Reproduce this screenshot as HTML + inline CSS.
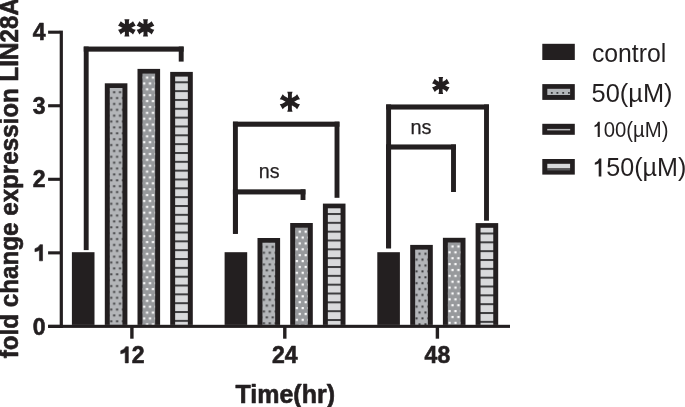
<!DOCTYPE html>
<html><head><meta charset="utf-8"><style>
html,body{margin:0;padding:0;background:#fff;overflow:hidden}
svg{display:block;will-change:transform}
text{font-family:"Liberation Sans",sans-serif;fill:#231f20}
.bs{stroke:#231f20;stroke-width:0.6px;stroke-linejoin:round}
.ns{stroke:#231f20;stroke-width:0.25px}
</style></head><body>
<svg width="685" height="407" viewBox="0 0 685 407">
<defs>
<pattern id="p1" patternUnits="userSpaceOnUse" x="109.75" y="88" width="5.9" height="11.75"><rect width="5.9" height="11.75" fill="#b3b5b8"/><rect x="3.4" y="3.2" width="2.0" height="2.0" fill="#3a3a3c"/><rect x="0.45" y="9.07" width="2.0" height="2.0" fill="#3a3a3c"/><rect x="6.35" y="9.07" width="2.0" height="2.0" fill="#3a3a3c"/></pattern>
<pattern id="p2" patternUnits="userSpaceOnUse" x="142.45" y="73.6" width="5.9" height="11.75"><rect width="5.9" height="11.75" fill="#97999c"/><rect x="3.55" y="2.9" width="2.2" height="2.2" fill="#ffffff"/><rect x="0.6" y="8.78" width="2.2" height="2.2" fill="#ffffff"/><rect x="6.5" y="8.78" width="2.2" height="2.2" fill="#ffffff"/></pattern>
<pattern id="p3" patternUnits="userSpaceOnUse" x="0" y="81.3" width="20" height="8.836"><rect width="20" height="8.836" fill="#d9dadc"/><rect width="20" height="2.0" fill="#3e3e40"/></pattern>
<pattern id="p4" patternUnits="userSpaceOnUse" x="262.45" y="242.7" width="5.9" height="11.75"><rect width="5.9" height="11.75" fill="#b3b5b8"/><rect x="3.4" y="3.2" width="2.0" height="2.0" fill="#3a3a3c"/><rect x="0.45" y="9.07" width="2.0" height="2.0" fill="#3a3a3c"/><rect x="6.35" y="9.07" width="2.0" height="2.0" fill="#3a3a3c"/></pattern>
<pattern id="p5" patternUnits="userSpaceOnUse" x="295.15" y="227.7" width="5.9" height="11.75"><rect width="5.9" height="11.75" fill="#97999c"/><rect x="3.55" y="2.9" width="2.2" height="2.2" fill="#ffffff"/><rect x="0.6" y="8.78" width="2.2" height="2.2" fill="#ffffff"/><rect x="6.5" y="8.78" width="2.2" height="2.2" fill="#ffffff"/></pattern>
<pattern id="p6" patternUnits="userSpaceOnUse" x="0" y="213" width="20" height="8.836"><rect width="20" height="8.836" fill="#d9dadc"/><rect width="20" height="2.0" fill="#3e3e40"/></pattern>
<pattern id="p7" patternUnits="userSpaceOnUse" x="415.15" y="249.6" width="5.9" height="11.75"><rect width="5.9" height="11.75" fill="#b3b5b8"/><rect x="3.4" y="3.2" width="2.0" height="2.0" fill="#3a3a3c"/><rect x="0.45" y="9.07" width="2.0" height="2.0" fill="#3a3a3c"/><rect x="6.35" y="9.07" width="2.0" height="2.0" fill="#3a3a3c"/></pattern>
<pattern id="p8" patternUnits="userSpaceOnUse" x="447.85" y="242.5" width="5.9" height="11.75"><rect width="5.9" height="11.75" fill="#97999c"/><rect x="3.55" y="2.9" width="2.2" height="2.2" fill="#ffffff"/><rect x="0.6" y="8.78" width="2.2" height="2.2" fill="#ffffff"/><rect x="6.5" y="8.78" width="2.2" height="2.2" fill="#ffffff"/></pattern>
<pattern id="p9" patternUnits="userSpaceOnUse" x="0" y="232.5" width="20" height="8.836"><rect width="20" height="8.836" fill="#d9dadc"/><rect width="20" height="2.0" fill="#3e3e40"/></pattern>
<linearGradient id="lg" x1="0" y1="0" x2="0" y2="1"><stop offset="0" stop-color="#d9dadc"/><stop offset="0.62" stop-color="#d9dadc"/><stop offset="0.8" stop-color="#6a6a6c"/><stop offset="1" stop-color="#2a2a2b"/></linearGradient>
</defs>
<rect x="71.9" y="252.2" width="22.6" height="72.7" fill="#231f20"/>
<rect x="104.8" y="83.3" width="22.6" height="241.6" fill="#231f20"/>
<rect x="109.75" y="88" width="12.7" height="236.9" fill="url(#p1)"/>
<rect x="137.5" y="68.9" width="22.6" height="256" fill="#231f20"/>
<rect x="142.45" y="73.6" width="12.7" height="251.3" fill="url(#p2)"/>
<rect x="170.2" y="71.9" width="22.6" height="253" fill="#231f20"/>
<rect x="175.15" y="76.6" width="12.7" height="248.3" fill="url(#p3)"/>
<rect x="224.6" y="252.2" width="22.6" height="72.7" fill="#231f20"/>
<rect x="257.5" y="238" width="22.6" height="86.9" fill="#231f20"/>
<rect x="262.45" y="242.7" width="12.7" height="82.2" fill="url(#p4)"/>
<rect x="290.2" y="223" width="22.6" height="101.9" fill="#231f20"/>
<rect x="295.15" y="227.7" width="12.7" height="97.2" fill="url(#p5)"/>
<rect x="322.9" y="203.6" width="22.6" height="121.3" fill="#231f20"/>
<rect x="327.85" y="208.3" width="12.7" height="116.6" fill="url(#p6)"/>
<rect x="377.3" y="252.2" width="22.6" height="72.7" fill="#231f20"/>
<rect x="410.2" y="244.9" width="22.6" height="80" fill="#231f20"/>
<rect x="415.15" y="249.6" width="12.7" height="75.3" fill="url(#p7)"/>
<rect x="442.9" y="237.8" width="22.6" height="87.1" fill="#231f20"/>
<rect x="447.85" y="242.5" width="12.7" height="82.4" fill="url(#p8)"/>
<rect x="475.6" y="223.1" width="22.6" height="101.8" fill="#231f20"/>
<rect x="480.55" y="227.8" width="12.7" height="97.1" fill="url(#p9)"/>
<rect x="59.7" y="30.6" width="3.2" height="297.3" fill="#231f20"/>
<rect x="48.2" y="324.8" width="461.8" height="3.1" fill="#231f20"/>
<rect x="48.1" y="324.85" width="12" height="3.1" fill="#231f20"/>
<rect x="48.1" y="251.3" width="12" height="3.1" fill="#231f20"/>
<rect x="48.1" y="177.75" width="12" height="3.1" fill="#231f20"/>
<rect x="48.1" y="104.2" width="12" height="3.1" fill="#231f20"/>
<rect x="48.1" y="30.65" width="12" height="3.1" fill="#231f20"/>
<rect x="130.2" y="327" width="3.4" height="11.7" fill="#231f20"/>
<rect x="283.1" y="327" width="3.4" height="11.7" fill="#231f20"/>
<rect x="435.7" y="327" width="3.4" height="11.7" fill="#231f20"/>
<rect x="83.75" y="46.55" width="99.9" height="5.1" fill="#231f20"/>
<rect x="83.75" y="46.55" width="4.9" height="203.55" fill="#231f20"/>
<rect x="178.75" y="46.55" width="4.9" height="15.05" fill="#231f20"/>
<rect x="232.95" y="121.65" width="106.5" height="5.1" fill="#231f20"/>
<rect x="232.95" y="121.65" width="4.9" height="112.15" fill="#231f20"/>
<rect x="334.55" y="121.65" width="4.9" height="76.15" fill="#231f20"/>
<rect x="232.95" y="189.35" width="72.5" height="5.1" fill="#231f20"/>
<rect x="232.95" y="189.35" width="4.9" height="44.45" fill="#231f20"/>
<rect x="300.55" y="189.35" width="4.9" height="10.65" fill="#231f20"/>
<rect x="386.15" y="104.45" width="102.8" height="5.1" fill="#231f20"/>
<rect x="386.15" y="104.45" width="4.9" height="143.85" fill="#231f20"/>
<rect x="484.05" y="104.45" width="4.9" height="116.25" fill="#231f20"/>
<rect x="386.15" y="144.45" width="69.8" height="5.1" fill="#231f20"/>
<rect x="386.15" y="144.45" width="4.9" height="103.85" fill="#231f20"/>
<rect x="451.05" y="144.45" width="4.9" height="47.55" fill="#231f20"/>
<path d="M124.9 27.8L124.9 21.18L124.4 19.2L129.4 19.2L128.9 21.18L128.9 27.8ZM125.8 25.89L131.53 22.58L133 21.16L135.7 25.84L133.73 26.39L128 29.71ZM128 25.89L133.73 29.21L135.7 29.76L133 34.44L131.53 33.02L125.8 29.71ZM128.9 27.8L128.9 34.42L129.4 36.4L124.4 36.4L124.9 34.42L124.9 27.8ZM128 29.71L122.27 33.02L120.8 34.44L118.1 29.76L120.07 29.21L125.8 25.89ZM125.8 29.71L120.07 26.39L118.1 25.84L120.8 21.16L122.27 22.58L128 25.89Z" fill="#231f20"/>
<path d="M143.5 27.8L143.5 21.18L143 19.2L148 19.2L147.5 21.18L147.5 27.8ZM144.4 25.89L150.13 22.58L151.6 21.16L154.3 25.84L152.33 26.39L146.6 29.71ZM146.6 25.89L152.33 29.21L154.3 29.76L151.6 34.44L150.13 33.02L144.4 29.71ZM147.5 27.8L147.5 34.42L148 36.4L143 36.4L143.5 34.42L143.5 27.8ZM146.6 29.71L140.87 33.02L139.4 34.44L136.7 29.76L138.67 29.21L144.4 25.89ZM144.4 29.71L138.67 26.39L136.7 25.84L139.4 21.16L140.87 22.58L146.6 25.89Z" fill="#231f20"/>
<path d="M287.95 101.7L287.95 94L287.25 91.7L292.55 91.7L291.85 94L291.85 101.7ZM288.8 99.79L295.47 95.94L297.11 94.19L300.01 99.21L297.67 99.76L291 103.61ZM291 99.79L297.67 103.64L300.01 104.19L297.11 109.21L295.47 107.46L288.8 103.61ZM291.85 101.7L291.85 109.4L292.55 111.7L287.25 111.7L287.95 109.4L287.95 101.7ZM291 103.61L284.33 107.46L282.69 109.21L279.79 104.19L282.13 103.64L288.8 99.79ZM288.8 103.61L282.13 99.76L279.79 99.21L282.69 94.19L284.33 95.94L291 99.79Z" fill="#231f20"/>
<path d="M438.95 85.4L438.95 78.86L438.45 76.9L443.15 76.9L442.65 78.86L442.65 85.4ZM439.7 83.49L445.37 80.22L446.81 78.81L449.51 83.49L447.57 84.03L441.9 87.31ZM441.9 83.49L447.57 86.77L449.51 87.31L446.81 91.99L445.37 90.58L439.7 87.31ZM442.65 85.4L442.65 91.95L443.15 93.9L438.45 93.9L438.95 91.95L438.95 85.4ZM441.9 87.31L436.23 90.58L434.79 91.99L432.09 87.31L434.03 86.77L439.7 83.49ZM439.7 87.31L434.03 84.03L432.09 83.49L434.79 78.81L436.23 80.22L441.9 83.49Z" fill="#231f20"/>
<text x="258.8" y="178.4" font-size="20" textLength="20.8" lengthAdjust="spacingAndGlyphs" class="ns">ns</text>
<text x="410.5" y="133.7" font-size="20" textLength="21" lengthAdjust="spacingAndGlyphs" class="ns">ns</text>
<text x="45.5" y="334.5" font-size="23" font-weight="bold" text-anchor="end"  class="bs">0</text>
<path d="M39.43 260.85L42.54 260.85L42.54 244.68L39.89 244.68Q38.97 247.44 34.95 248.71L34.95 251.7Q38.05 251.24 39.43 250.32Z" fill="#231f20" class="bs"/>
<text x="45.5" y="187.4" font-size="23" font-weight="bold" text-anchor="end"  class="bs">2</text>
<text x="45.5" y="113.85" font-size="23" font-weight="bold" text-anchor="end"  class="bs">3</text>
<text x="45.5" y="40.3" font-size="23" font-weight="bold" text-anchor="end"  class="bs">4</text>
<path d="M125.23 362.9L128.34 362.9L128.34 346.73L125.69 346.73Q124.77 349.49 120.75 350.76L120.75 353.75Q123.85 353.29 125.23 352.37Z" fill="#231f20" class="bs"/>
<text x="131.7" y="362.9" font-size="23" font-weight="bold" text-anchor="start"  class="bs">2</text>
<text x="284.7" y="362.9" font-size="23" font-weight="bold" text-anchor="middle"  class="bs">24</text>
<text x="437.4" y="362.9" font-size="23" font-weight="bold" text-anchor="middle"  class="bs">48</text>
<text x="285.2" y="402.8" font-size="25" font-weight="bold" text-anchor="middle"  class="bs">Time(hr)</text>
<text transform="translate(18.2 358.2) rotate(-90) scale(1.008 1.05)" font-size="24" font-weight="bold" class="bs">fold change expression LIN28A</text>
<rect x="542.3" y="43.8" width="32.5" height="16.2" fill="#231f20"/>
<rect x="542.3" y="84.1" width="32.5" height="15.8" fill="#231f20"/>
<rect x="547.3" y="88.8" width="22.8" height="6.2" fill="#b3b5b8"/>
<rect x="550.9" y="92" width="1.8" height="1.8" fill="#3a3a3c"/>
<rect x="556.5" y="92" width="1.8" height="1.8" fill="#3a3a3c"/>
<rect x="562.3" y="92" width="1.8" height="1.8" fill="#3a3a3c"/>
<rect x="568" y="92" width="1.8" height="1.8" fill="#3a3a3c"/>
<rect x="542.3" y="123.8" width="32.5" height="11" fill="#231f20"/>
<rect x="547.2" y="128.9" width="23" height="1.5" fill="#b8b9bb"/>
<rect x="542.3" y="159" width="32.5" height="15.6" fill="#231f20"/>
<rect x="547.3" y="163.8" width="22.8" height="4.6" fill="#d9dadc"/>
<rect x="547.3" y="168.4" width="22.8" height="2.1" fill="#58585a"/>
<text transform="translate(591.9 61.8) scale(1.0 1.026)" font-size="24.8">control</text>
<text transform="translate(591.6 101.8) scale(1.0 1.01)" font-size="25.4">50(µM)</text>
<g transform="translate(592.5 137) scale(1.0 1.06)">
<path d="M5.18 0L7.31 0L7.31 -14.27L5.58 -14.27Q4.77 -11.83 2.03 -10.82L2.03 -9.3Q3.96 -9.7 5.18 -10.52Z" fill="#231f20"/>
<text x="11.29" y="0" font-size="20.3">00(µM)</text></g>
<g transform="translate(592.3 176.4) scale(1.025 1.04)">
<path d="M6.25 0L8.82 0L8.82 -17.22L6.74 -17.22Q5.76 -14.28 2.45 -13.06L2.45 -11.22Q4.78 -11.71 6.25 -12.69Z" fill="#231f20"/>
<text x="13.62" y="0" font-size="24.5">50(µM)</text></g>
</svg>
</body></html>
